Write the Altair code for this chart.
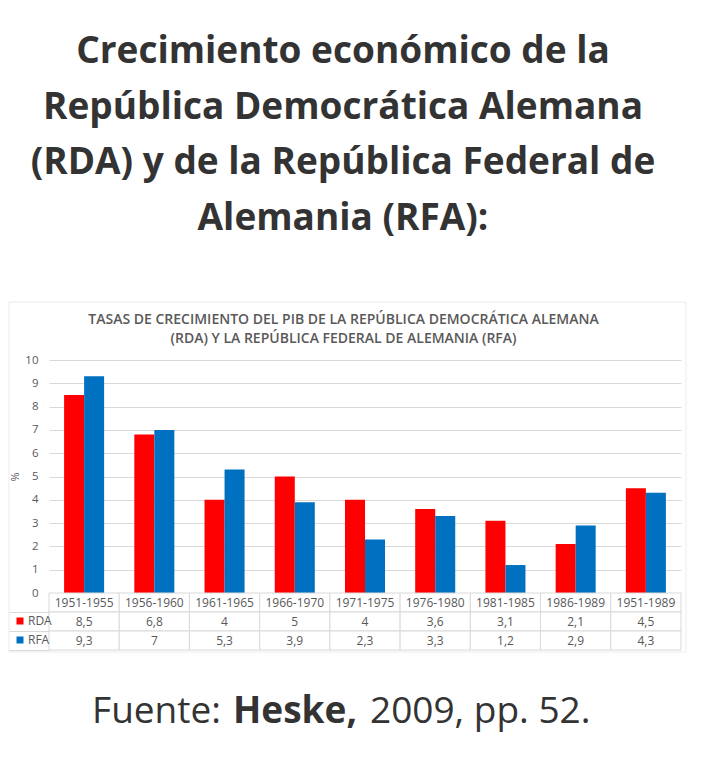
import altair as alt
import pandas as pd

# ---------------- data ----------------
periodos = ["1951-1955", "1956-1960", "1961-1965", "1966-1970", "1971-1975",
            "1976-1980", "1981-1985", "1986-1989", "1951-1989"]
rda = [8.5, 6.8, 4, 5, 4, 3.6, 3.1, 2.1, 4.5]
rfa = [9.3, 7, 5.3, 3.9, 2.3, 3.3, 1.2, 2.9, 4.3]
series = ["RDA", "RFA"]
colores = ["#FF0000", "#0070C0"]
y_ticks = [0, 1, 2, 3, 4, 5, 6, 7, 8, 9, 10]

encabezado = ["Crecimiento económico de la",
              "República Democrática Alemana",
              "(RDA) y de la República Federal de",
              "Alemania (RFA):"]
titulo_grafico = ["TASAS DE CRECIMIENTO DEL PIB DE LA REPÚBLICA DEMOCRÁTICA ALEMANA",
                  "(RDA) Y LA REPÚBLICA FEDERAL DE ALEMANIA (RFA)"]
fuente = ["Fuente:", "Heske,", "2009, pp. 52."]
filas = ["cab", "RDA", "RFA"]

GRAY = "#595959"
GRID = "#d9d9d9"
FONT = "Open Sans"


def fmt(v):
    return f"{v:g}".replace(".", ",")


bars_df = pd.DataFrame({
    "periodo": periodos * 2,
    "serie": [series[0]] * len(periodos) + [series[1]] * len(periodos),
    "valor": rda + rfa,
})

tabla_df = pd.DataFrame({
    "periodo": periodos * 3,
    "fila": [filas[0]] * len(periodos) + [filas[1]] * len(periodos) + [filas[2]] * len(periodos),
    "texto": periodos + [fmt(v) for v in rda] + [fmt(v) for v in rfa],
})

enc_df = pd.DataFrame({"linea": encabezado, "n": list(range(len(encabezado)))})

W = 632

# ---------------- heading ----------------
heading = alt.Chart(enc_df).mark_text(
    font=FONT, fontSize=37, fontWeight="bold", color="#333333", baseline="middle", align="center"
).encode(
    x=alt.value(294),
    y=alt.Y("n:O", axis=None, scale=alt.Scale(type="point", padding=0, range=[44, 211])),
    text="linea:N",
).properties(width=W, height=352)

# ---------------- bars ----------------
marco = alt.Chart(pd.DataFrame({"a": [0]})).mark_rect(
    fill="transparent", stroke="#ebebeb", strokeWidth=1
).encode(x=alt.value(-40), x2=alt.value(637), y=alt.value(-58), y2=alt.value(292))

barras = alt.Chart(bars_df).mark_bar().encode(
    x=alt.X("periodo:N", sort=periodos, axis=None,
            scale=alt.Scale(paddingInner=0.43, paddingOuter=0.215)),
    xOffset=alt.XOffset("serie:N", sort=series),
    y=alt.Y("valor:Q", scale=alt.Scale(domain=[0, 10], nice=False),
            axis=alt.Axis(values=y_ticks, title="%", grid=True, gridColor=GRID, gridWidth=1,
                          domain=False, ticks=False, labelPadding=11, labelFontSize=11.5,
                          labelColor=GRAY, labelFont=FONT, titleFont=FONT, titleFontSize=11,
                          titleFontWeight="normal", titleColor=GRAY, titleX=-34, titleY=116.5,
                          titleAngle=270, titleAlign="center", titleBaseline="middle")),
    color=alt.Color("serie:N", scale=alt.Scale(domain=series, range=colores),
                    legend=alt.Legend(orient="none", legendX=-35, legendY=607, title=None,
                                      symbolType="square", symbolSize=49, symbolStrokeWidth=0,
                                      labelFontSize=12, labelColor=GRAY, labelFont=FONT,
                                      rowPadding=7, padding=0, labelOffset=2)),
)

bars = alt.layer(marco, barras).properties(
    width=W, height=233,
    title=alt.TitleParams(text=titulo_grafico, anchor="middle", frame="group", dx=-21.5,
                          offset=-44, fontSize=14, fontWeight=600, color=GRAY, font=FONT,
                          lineHeight=19),
)

# ---------------- data table ----------------
tbase = alt.Chart(tabla_df).encode(
    x=alt.X("periodo:N", sort=periodos, axis=None,
            scale=alt.Scale(paddingInner=0, paddingOuter=0)),
    y=alt.Y("fila:N", sort=filas, scale=alt.Scale(paddingInner=0, paddingOuter=0),
            axis=alt.Axis(labels=False, domain=False, ticks=True, tickSize=40, tickColor=GRID,
                          bandPosition=1, title=None, grid=False)),
)
cells = tbase.mark_rect(fill="white", stroke=GRID, strokeWidth=1)
cell_text = tbase.mark_text(font=FONT, fontSize=12, color=GRAY, baseline="middle").encode(
    text="texto:N")
tabla = alt.layer(cells, cell_text).properties(width=W, height=57)

# ---------------- source ----------------
src_df = pd.DataFrame({"a": [0]})
s1 = alt.Chart(src_df).mark_text(text=fuente[0], font=FONT, fontSize=37, color="#333333",
                                 align="right", baseline="middle").encode(
    x=alt.value(172), y=alt.value(62))
s2 = alt.Chart(src_df).mark_text(text=fuente[1], font=FONT, fontSize=37, fontWeight="bold",
                                 color="#333333", align="center", baseline="middle").encode(
    x=alt.value(246), y=alt.value(62))
s3 = alt.Chart(src_df).mark_text(text=fuente[2], font=FONT, fontSize=37, color="#333333",
                                 align="left", baseline="middle").encode(
    x=alt.value(321), y=alt.value(62))
source = alt.layer(s1, s2, s3).properties(width=W, height=100)

chart = alt.vconcat(heading, bars, tabla, source, spacing=0, bounds="flush").properties(
    padding=0, background="white",
).configure_view(strokeWidth=0, stroke="transparent")

chart.save("out.html", embed_options={"renderer": "svg", "actions": False})
